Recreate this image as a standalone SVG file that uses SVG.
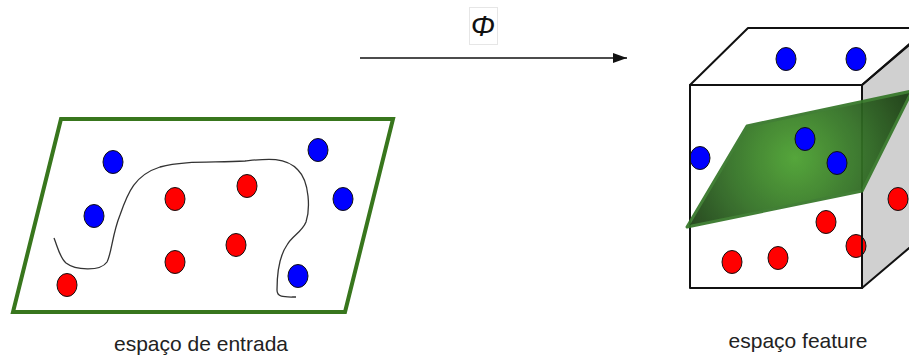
<svg xmlns="http://www.w3.org/2000/svg" width="909" height="356" viewBox="0 0 909 356">
  <style>
    .blue { fill: #0000ff; stroke: #111; stroke-width: 1; }
    .red { fill: #ff0000; stroke: #111; stroke-width: 1; }
    .label { font-family: "Liberation Sans", Arial, sans-serif; font-size: 21px; fill: #222; text-anchor: middle; }
    .edge { fill: none; stroke: #111; stroke-width: 2; stroke-linejoin: round; }
  </style>
  <defs>
    <marker id="arrowhead" markerWidth="14" markerHeight="10" refX="14" refY="5" orient="auto" markerUnits="userSpaceOnUse">
      <path d="M0,0 L14,5 L0,10 Z" fill="#111"/>
    </marker>
    <radialGradient id="planeFill" gradientUnits="userSpaceOnUse" cx="795" cy="158" r="125">
      <stop offset="0" stop-color="#4ba12f"/>
      <stop offset="0.55" stop-color="#316e24"/>
      <stop offset="1" stop-color="#1b3f13"/>
    </radialGradient>
  </defs>

  <rect width="909" height="356" fill="#ffffff"/>

  <!-- input space: flat plane with two classes and a curved boundary -->
  <g id="input-space">
    <polygon points="61,119 393,119 345,312 13,312" fill="#ffffff" stroke="#38761d" stroke-width="4" stroke-linejoin="miter"/>
    <path d="M54,238 C58,248 60,258 66,263 C75,270 100,272 107,262 C112,252 112,235 120,215 C128,192 135,175 160,167 C185,160 215,163 245,161 C265,159 285,156 298,170 C310,182 310,210 306,222 C302,232 292,236 287,245 C278,258 277,275 277,290 C277,298 285,297 296,297" fill="none" stroke="#333" stroke-width="1.3"/>
    <ellipse class="blue" cx="113" cy="162" rx="10" ry="11.5"/>
    <ellipse class="blue" cx="94" cy="216" rx="10" ry="11.5"/>
    <ellipse class="blue" cx="318" cy="150" rx="10" ry="11.5"/>
    <ellipse class="blue" cx="343" cy="199" rx="10" ry="11.5"/>
    <ellipse class="blue" cx="298" cy="276" rx="10" ry="11.5"/>
    <ellipse class="red" cx="175" cy="199" rx="10" ry="11.5"/>
    <ellipse class="red" cx="247" cy="186" rx="10" ry="11.5"/>
    <ellipse class="red" cx="175" cy="262" rx="10" ry="11.5"/>
    <ellipse class="red" cx="236" cy="245" rx="10" ry="11.5"/>
    <ellipse class="red" cx="67" cy="285" rx="10" ry="11.5"/>
    <text class="label" x="201" y="351">espaço de entrada</text>
  </g>

  <!-- mapping arrow -->
  <g id="connectors">
    <line x1="360" y1="58" x2="627" y2="58" stroke="#111" stroke-width="1.6" marker-end="url(#arrowhead)"/>
    <g id="phi-label">
      <rect x="469.5" y="7.5" width="28" height="37" fill="#ffffff" stroke="#e6e6e6" stroke-width="1"/>
      <text x="483" y="36" font-family="Liberation Sans, Arial, sans-serif" font-size="29" font-style="italic" fill="#111" text-anchor="middle">Φ</text>
    </g>
  </g>

  <!-- feature space: cube with separating plane -->
  <g id="feature-space">
    <polygon points="690,85 748,28 928,28 862,85" fill="#ffffff"/>
    <polygon points="862,85 928,29 928,232 862,288" fill="#d0d0d0"/>
    <rect x="690" y="85" width="172" height="203" fill="#ffffff"/>

    <ellipse class="blue" cx="786" cy="59" rx="10" ry="11.5"/>
    <ellipse class="blue" cx="856" cy="59" rx="10" ry="11.5"/>
    <ellipse class="blue" cx="700" cy="158" rx="10" ry="11.5"/>
    <ellipse class="red" cx="898" cy="199" rx="10" ry="11.5"/>
    <ellipse class="red" cx="826" cy="222" rx="10" ry="11.5"/>
    <ellipse class="red" cx="856" cy="246" rx="10" ry="11.5"/>
    <ellipse class="red" cx="732" cy="262" rx="10" ry="11.5"/>
    <ellipse class="red" cx="778" cy="258" rx="10" ry="11.5"/>

    <polygon class="edge" points="690,85 748,28 928,28 862,85"/>
    <polygon class="edge" points="862,85 928,29 928,232 862,288"/>
    <rect class="edge" x="690" y="85" width="172" height="203"/>

    <polygon points="747,126 912,91 862,191 687,227" fill="url(#planeFill)" stroke="#37782a" stroke-width="3" stroke-linejoin="round" opacity="0.94"/>

    <ellipse class="blue" cx="805" cy="139" rx="10" ry="11.5"/>
    <ellipse class="blue" cx="837" cy="163" rx="10" ry="11.5"/>
    <text class="label" x="798" y="348">espaço feature</text>
  </g>
</svg>
